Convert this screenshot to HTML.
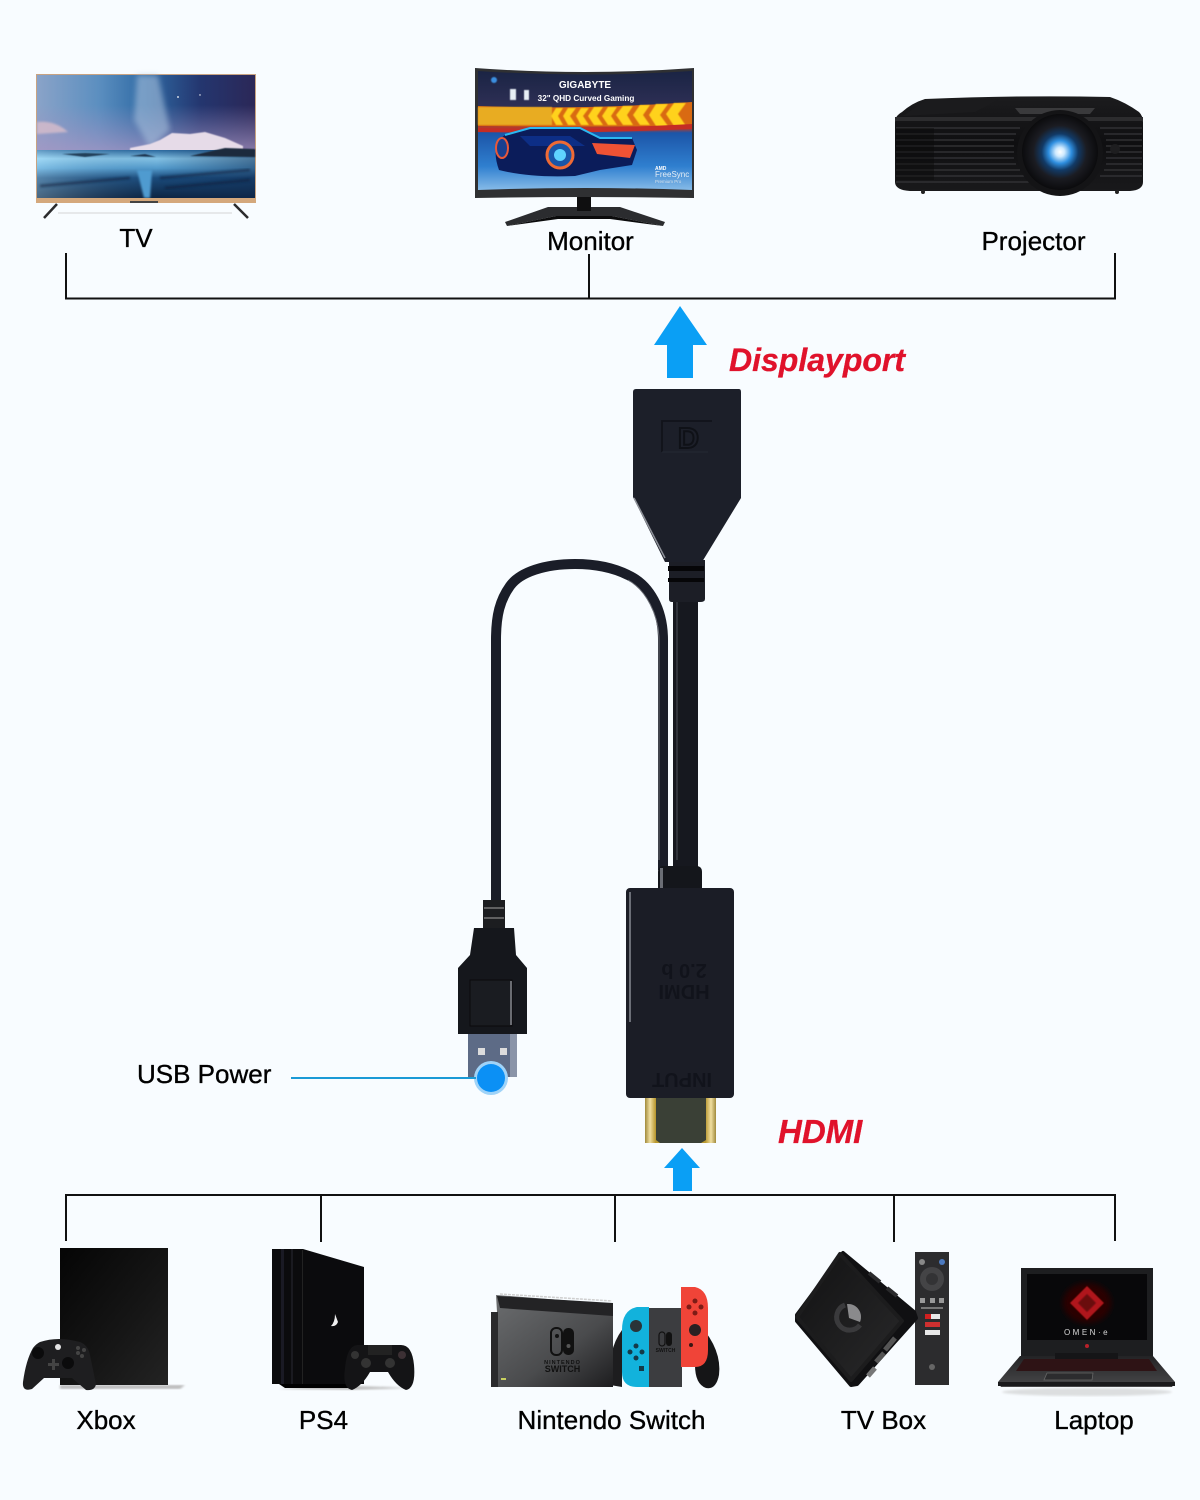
<!DOCTYPE html>
<html>
<head>
<meta charset="utf-8">
<style>
html,body{margin:0;padding:0;background:#f8fcff;}
svg{display:block;}
text{font-family:"Liberation Sans",sans-serif;}
.lb{font-size:26px;fill:#000;stroke:#000;stroke-width:.35px;}
</style>
</head>
<body>
<svg width="1200" height="1500" viewBox="0 0 1200 1500" xmlns="http://www.w3.org/2000/svg">
<defs>
<linearGradient id="sky" x1="0" y1="0" x2="1" y2="0"><stop offset="0" stop-color="#8aa3c8"/><stop offset="0.28" stop-color="#5c8fc0"/><stop offset="0.5" stop-color="#2f6aa4"/><stop offset="0.75" stop-color="#24366f"/><stop offset="1" stop-color="#2b2757"/></linearGradient>
<linearGradient id="skyl" x1="0" y1="0" x2="0" y2="1"><stop offset="0" stop-color="#9a8fc0" stop-opacity="0"/><stop offset="1" stop-color="#a896c4" stop-opacity=".75"/></linearGradient>
<linearGradient id="sea" x1="0" y1="0" x2="0" y2="1"><stop offset="0" stop-color="#2f6fa5"/><stop offset="0.18" stop-color="#8fd0f2"/><stop offset="0.38" stop-color="#5aa6d8"/><stop offset="0.58" stop-color="#1c4f80"/><stop offset="1" stop-color="#0c2340"/></linearGradient>
<linearGradient id="seal" x1="0" y1="0" x2="1" y2="0"><stop offset="0" stop-color="#bfe8fb" stop-opacity=".35"/><stop offset="0.55" stop-color="#10305a" stop-opacity=".1"/><stop offset="1" stop-color="#102a50" stop-opacity=".55"/></linearGradient>
<linearGradient id="mon" x1="0" y1="0" x2="0" y2="1"><stop offset="0" stop-color="#1a2444"/><stop offset="0.3" stop-color="#2e2f55"/><stop offset="0.48" stop-color="#b63a2a"/><stop offset="0.52" stop-color="#1c55a8"/><stop offset="0.8" stop-color="#2f7fcf"/><stop offset="1" stop-color="#86bbe8"/></linearGradient>
<linearGradient id="proj" x1="0" y1="0" x2="0" y2="1"><stop offset="0" stop-color="#1c1c1e"/><stop offset="0.5" stop-color="#0f0f11"/><stop offset="1" stop-color="#19191b"/></linearGradient>
<radialGradient id="lens"><stop offset="0" stop-color="#fff"/><stop offset="0.12" stop-color="#cfeaff"/><stop offset="0.3" stop-color="#2f8fe0"/><stop offset="0.48" stop-color="#123a66"/><stop offset="0.7" stop-color="#1b1c22"/><stop offset="1" stop-color="#0b0b0d"/></radialGradient>
<linearGradient id="tower" x1="0" y1="0" x2="1" y2="1"><stop offset="0" stop-color="#050505"/><stop offset="0.6" stop-color="#161616"/><stop offset="1" stop-color="#232323"/></linearGradient>
<linearGradient id="dock" x1="0" y1="0" x2="1" y2="1"><stop offset="0" stop-color="#6c6e70"/><stop offset="0.6" stop-color="#4a4b4d"/><stop offset="1" stop-color="#1d1d1f"/></linearGradient>
<linearGradient id="box" x1="0" y1="0" x2="1" y2="1"><stop offset="0" stop-color="#121213"/><stop offset="1" stop-color="#29292a"/></linearGradient>
<linearGradient id="gold" x1="0" y1="0" x2="1" y2="0"><stop offset="0" stop-color="#a08a3c"/><stop offset="0.07" stop-color="#f0dea0"/><stop offset="0.15" stop-color="#b8982f"/><stop offset="0.85" stop-color="#b8982f"/><stop offset="0.93" stop-color="#f0dea0"/><stop offset="1" stop-color="#a08a3c"/></linearGradient>
<linearGradient id="deck" x1="0" y1="0" x2="0" y2="1"><stop offset="0" stop-color="#232325"/><stop offset="1" stop-color="#48484a"/></linearGradient>
<filter id="s"><feGaussianBlur stdDeviation=".5"/></filter>
<filter id="b1"><feGaussianBlur stdDeviation="1"/></filter>
<filter id="b3"><feGaussianBlur stdDeviation="3"/></filter>
</defs>

<rect width="1200" height="1500" fill="#f8fcff"/>

<!-- TV -->
<g>
<path d="M58 213H232" stroke="#e6e8ea" stroke-width="2"/>
<path d="M57 204L44 218M234 204L248 218" stroke="#2b2b2d" stroke-width="2.500"/>
<rect x="36" y="74" width="220" height="129" fill="#c8a382"/>
<rect x="37" y="75" width="218" height="76" fill="url(#sky)"/>
<rect x="37" y="105" width="218" height="46" fill="url(#skyl)"/>
<path d="M137 75H158L170 130L150 148L134 120Z" fill="#a8c0dc" opacity=".6" filter="url(#b3)"/>
<path d="M37 122Q55 120 68 132L37 134Z" fill="#d4bccb" opacity=".85" filter="url(#b1)"/>
<path d="M130 148L150 144L160 140L172 133L190 134L205 132L225 138L243 146V151H130Z" fill="#e6dbe8" filter="url(#s)"/>
<rect x="37" y="150" width="218" height="48" fill="url(#sea)"/>
<rect x="37" y="150" width="218" height="48" fill="url(#seal)"/>
<path d="M190 156L225 148L255 149V157Z" fill="#1a2a3d" filter="url(#s)"/>
<path d="M62 154L85 153L110 154L85 157Z" fill="#24405a" filter="url(#s)"/>
<path d="M130 156L145 154L156 157Z" fill="#1f3650" filter="url(#s)"/>
<path d="M137 170H152L150 198H144Z" fill="#4f9bd0" filter="url(#b1)"/>
<path d="M40 186L130 178M160 178L250 170M165 188L250 180" stroke="#0a1d38" stroke-width="3" opacity=".5" filter="url(#b1)"/>
<rect x="36" y="198" width="220" height="5" fill="#d4a87c"/>
<rect x="130" y="201" width="28" height="2" fill="#444"/>
<circle cx="178" cy="97" r="0.9" fill="#fff"/><circle cx="200" cy="95" r="0.7" fill="#fff"/>
</g>

<!-- Monitor -->
<g>
<path d="M505 222L548 207H620L665 222L663 226L612 216H556L507 226Z" fill="#2b2c2f"/>
<path d="M507 226L556 216H612L663 226L655 225L610 219H558Z" fill="#0b0b0c"/>
<rect x="577" y="196" width="14" height="15" fill="#0f0f10"/>
<path d="M475 68Q585 76 694 68V198Q585 196 475 198Z" fill="#2f3032"/>
<path d="M478 71Q585 78 692 71V190Q585 186 478 190Z" fill="url(#mon)"/>
<path d="M478 106Q585 110 692 102V126Q585 127 478 126Z" fill="#d96a12"/>
<path d="M478 107H552V125H478Z" fill="#e8ac20" filter="url(#s)"/>
<g fill="#ffd21f" filter="url(#s)">
<path d="M556 108h7l-5 8 5 9h-7l-5-9z"/><path d="M568 108h8l-6 8 6 9h-8l-5-9z"/><path d="M581 108h8l-6 8 6 9h-8l-5-9z"/><path d="M594 107h9l-6 9 6 9h-9l-6-9z"/><path d="M608 107h9l-6 9 6 9h-9l-6-9z"/><path d="M623 106h10l-6 9 6 10h-10l-7-10z"/><path d="M640 105h10l-7 10 7 10h-10l-7-10z"/><path d="M656 104h12l-8 11 8 11h-12l-7-11z"/><path d="M674 103h12l-8 11 8 12h-12l-8-12z"/>
</g>
<path d="M478 128Q585 130 692 124V129Q585 134 478 132Z" fill="#c42d25"/>
<path d="M499 170Q490 145 505 135L530 128H580L600 138H632L637 150L632 165L600 170L575 176Q530 178 499 170Z" fill="#0b1c5a"/>
<path d="M505 135L530 128H580L600 138H632" fill="none" stroke="#2bb8f2" stroke-width="2"/>
<path d="M520 136H570L585 146H530Z" fill="#0d2e86"/>
<circle cx="560" cy="155" r="13" fill="#1a55a8" stroke="#ef6a35" stroke-width="3"/>
<circle cx="560" cy="155" r="6" fill="#5fd3ff"/>
<ellipse cx="502" cy="148" rx="6" ry="10" fill="#1a3f8f" stroke="#e8583a" stroke-width="2"/>
<path d="M592 143L635 145L630 158L597 154Z" fill="#ef5234"/>
<circle cx="494" cy="80" r="3" fill="#3b8fe0" filter="url(#s)"/>
<rect x="510" y="89" width="6" height="11" fill="#e7eef5" filter="url(#s)"/><rect x="524" y="90" width="5" height="10" fill="#e7eef5" filter="url(#s)"/>
<text x="585" y="88" text-anchor="middle" font-size="10" font-weight="bold" fill="#fff">GIGABYTE</text>
<text x="586" y="101" text-anchor="middle" font-size="8.2" font-weight="bold" fill="#fff">32" QHD Curved Gaming</text>
<text x="655" y="170" font-size="5" font-weight="bold" fill="#fff">AMD</text>
<text x="655" y="177" font-size="8" fill="#e6eef6">FreeSync</text>
<text x="655" y="183" font-size="4.5" fill="#d5e0ea">Premium Pro</text>
</g>

<!-- Projector -->
<g>
<path d="M925 99Q1020 95 1110 97Q1125 102 1139 112Q1143 116 1143 122V182Q1143 190 1130 191H910Q895 190 895 182V122Q895 116 902 112Q912 103 925 99Z" fill="url(#proj)"/>
<path d="M927 100L1000 99L975 112L903 116Z" fill="#1b1b1d"/>
<path d="M1015 108L1095 108L1090 114L1020 114Z" fill="#3a3a3c"/>
<path d="M895 117H1143V121H895Z" fill="#2c2c2e"/>
<g stroke="#37373a" stroke-width="1.300">
<path d="M896 128H1020M896 134H1016M896 140H1014M896 146H1014M896 152H1014M896 158H1014M896 164H1016M896 170H1020M896 176H1026M896 182H1034"/>
<path d="M1100 128H1142M1104 134H1142M1106 140H1142M1106 146H1142M1106 152H1142M1106 158H1142M1106 164H1142M1104 170H1142M1100 176H1142"/>
</g>
<rect x="896" y="128" width="38" height="52" fill="#0a0a0b" opacity=".45"/>
<circle cx="1060" cy="153" r="43" fill="#141416"/>
<circle cx="1060" cy="152" r="38" fill="url(#lens)"/>
<circle cx="1115" cy="149" r="5" fill="#1e1e20"/>
<circle cx="923" cy="192" r="2" fill="#222"/><circle cx="1117" cy="192" r="2" fill="#222"/>
</g>

<!-- Top labels -->
<text class="lb" x="136" y="247" text-anchor="middle">TV</text>
<text class="lb" x="590.500" y="250" text-anchor="middle">Monitor</text>
<text class="lb" x="1033.500" y="250" text-anchor="middle">Projector</text>

<!-- Top bracket -->
<path d="M66 253V298.500H1115V253M589 254V298" fill="none" stroke="#111" stroke-width="2"/>

<!-- Up arrow top -->
<path d="M680 306L707 345H693V378H667V345H654Z" fill="#0a9ff5"/>
<text x="729" y="371" font-size="32" font-weight="bold" font-style="italic" fill="#e0122b" stroke="#e0122b" stroke-width=".3">Displayport</text>

<!-- thin cable -->
<path d="M663 870V640C663 610 650 585 628 575C610 566 590 564 575 564C545 564 520 572 510 586C500 600 496 615 496 640V905" fill="none" stroke="#1a1d28" stroke-width="10"/>
<path d="M659 860V640C659 615 646 590 628 580" fill="none" stroke="#6a6d75" stroke-width="1"/>
<!-- main cable -->
<rect x="673" y="598" width="25" height="275" fill="#16181f"/>
<rect x="676" y="600" width="2" height="260" fill="#30333b"/>
<!-- HDMI strain -->
<path d="M658 872Q658 866 664 866H696Q702 866 702 872V892H658Z" fill="#14161b"/>
<rect x="660" y="868" width="3" height="22" fill="#6b6e75"/>
<!-- DP connector -->
<path d="M669 560H705V599Q705 602 700 602H672Q669 602 669 599Z" fill="#1c1e26"/>
<rect x="668" y="566" width="36" height="5" fill="#060608"/>
<rect x="668" y="578" width="36" height="4" fill="#060608"/>
<path d="M636 389H739Q741 389 741 392V498L702 562H665L633 497V392Q633 389 636 389Z" fill="#1c1f29"/>
<path d="M634 498L665 558" stroke="#8d9098" stroke-width="1.500" fill="none"/>
<path d="M662 452V421H712" stroke="#11131a" stroke-width="1.800" fill="none"/>
<path d="M662 452H708" stroke="#242833" stroke-width="1" fill="none"/>
<text x="678" y="448" font-size="29" font-weight="bold" fill="none" stroke="#0f1117" stroke-width="2">D</text>

<!-- HDMI connector -->
<rect x="645" y="1097" width="71" height="46" fill="url(#gold)"/>
<path d="M656 1097H706V1140L701 1143H660L656 1140Z" fill="#3a4036"/>
<rect x="626" y="888" width="108" height="210" rx="4" fill="#1b1d26"/>
<rect x="629" y="892" width="2" height="130" fill="#6c6f77"/>
<g transform="rotate(180 684 980)" fill="#10121a" font-weight="bold" opacity=".85">
<text x="684" y="975" text-anchor="middle" font-size="20">HDMI</text>
<text x="684" y="996" text-anchor="middle" font-size="20">2.0 b</text>
</g>
<text transform="rotate(180 682 1080)" x="682" y="1087" text-anchor="middle" font-size="20" font-weight="bold" fill="#10121a" opacity=".85">INPUT</text>

<!-- USB -->
<rect x="483" y="900" width="22" height="30" fill="#1c1d20"/>
<path d="M484 908H504M484 918H504" stroke="#777" stroke-width="1.500"/>
<rect x="468" y="1033" width="49" height="44" fill="#5d6b86"/>
<rect x="510" y="1034" width="7" height="43" fill="#8a94a8"/>
<rect x="478" y="1048" width="7" height="7" fill="#dcdcdc"/>
<rect x="500" y="1048" width="7" height="7" fill="#dcdcdc"/>
<path d="M474 928H514L516 955L527 968V1034H458V968L470 955Z" fill="#15171c"/>
<rect x="470" y="980" width="42" height="46" fill="#1a1c21" stroke="#0a0a0c"/>
<rect x="510" y="981" width="2" height="44" fill="#6a6c72"/>
<circle cx="491" cy="1078" r="17" fill="#9fd3f8"/>
<circle cx="491" cy="1078" r="14" fill="#0b90f5"/>
<path d="M291 1078H476" stroke="#1a9ad6" stroke-width="2"/>
<text class="lb" x="137" y="1083">USB Power</text>

<!-- HDMI label and arrow -->
<text x="778" y="1143" font-size="33" font-weight="bold" font-style="italic" fill="#e0122b" stroke="#e0122b" stroke-width=".3">HDMI</text>
<path d="M682 1148L700 1168H692V1191H673V1168H664Z" fill="#0a9ff5"/>

<!-- Bottom bracket -->
<path d="M66 1241V1195H1115V1241M321 1195V1242M615 1195V1242M894 1195V1242" fill="none" stroke="#111" stroke-width="2"/>

<!-- Xbox -->
<g>
<path d="M60 1385H185L180 1389H60Z" fill="#bbb" filter="url(#b1)"/>
<rect x="60" y="1248" width="108" height="137" fill="url(#tower)"/>
<path d="M40 1342Q58 1336 80 1342Q88 1345 90 1355L96 1384Q95 1391 86 1390L72 1378H44L32 1389Q22 1392 23 1382Q26 1360 33 1348Q36 1344 40 1342Z" fill="#1e1e20"/>
<circle cx="38" cy="1353" r="6" fill="#0b0b0c"/><circle cx="68" cy="1363" r="6" fill="#0b0b0c"/>
<circle cx="58" cy="1347" r="3" fill="#e4e4e4"/>
<path d="M48 1363h4v-4h3v4h4v3h-4v4h-3v-4h-4z" fill="#444"/>
<circle cx="78" cy="1353" r="2" fill="#444"/><circle cx="84" cy="1350" r="2" fill="#444"/><circle cx="78" cy="1348" r="2" fill="#444"/><circle cx="82" cy="1356" r="2" fill="#444"/>
</g>

<!-- PS4 -->
<g>
<path d="M278 1389L330 1385L410 1388L350 1390Z" fill="#bbb" filter="url(#b1)"/>
<path d="M272 1249H303L364 1267V1384H272Z" fill="#0b0b0d"/>
<rect x="281" y="1249" width="3" height="135" fill="#1a1a24"/>
<rect x="291" y="1249" width="2" height="135" fill="#1a1a20"/>
<rect x="302" y="1250" width="1" height="134" fill="#222"/>
<path d="M279 1384H350V1388H285Z" fill="#000"/>
<path d="M335 1314L338 1322Q336 1327 331 1326Q335 1322 335 1314Z" fill="#f0f0f0"/>
<path d="M357 1345H400Q412 1344 414 1365Q416 1388 406 1390Q396 1386 388 1372H370Q362 1386 352 1390Q342 1388 345 1368Q347 1346 357 1345Z" fill="#141416"/>
<rect x="368" y="1345" width="24" height="10" fill="#222"/>
<circle cx="366" cy="1363" r="5" fill="#333"/><circle cx="390" cy="1363" r="5" fill="#333"/>
<circle cx="355" cy="1355" r="4" fill="#333"/><circle cx="402" cy="1355" r="4" fill="#3c3034"/>
</g>

<!-- Switch -->
<g>
<path d="M610 1385Q607 1350 622 1330V1387Z" fill="#1d1d1f"/>
<path d="M700 1325Q722 1350 719 1375Q716 1390 706 1388Q695 1384 695 1365Z" fill="#151517"/>
<path d="M496 1295L613 1304V1387H491V1312H497Z" fill="url(#dock)"/>
<path d="M497 1296L613 1303V1316L500 1308Z" fill="#232325"/>
<path d="M500 1294L612 1301" stroke="#cfcfcf" stroke-width="1.500" stroke-dasharray="3 1"/>
<rect x="491" y="1312" width="7" height="75" fill="#2a2a2c"/>
<rect x="501" y="1378" width="5" height="2" fill="#c8d060"/>
<rect x="551" y="1328" width="11" height="27" rx="5" fill="none" stroke="#111" stroke-width="2"/>
<rect x="563" y="1328" width="11" height="27" rx="5" fill="#111"/>
<circle cx="557" cy="1336" r="2" fill="#111"/><circle cx="568.500" cy="1346" r="2" fill="#555"/>
<text x="562.500" y="1364" text-anchor="middle" font-size="5.500" font-weight="bold" letter-spacing="1" fill="#111">NINTENDO</text>
<text x="562.500" y="1372" text-anchor="middle" font-size="9" font-weight="bold" fill="#111">SWITCH</text>
<path d="M649 1307H637Q622 1310 622 1330V1372Q622 1387 637 1387H649Z" fill="#12b2dc"/>
<circle cx="636" cy="1326" r="6" fill="#2a3438"/>
<circle cx="636" cy="1346" r="2.500" fill="#143a48"/><circle cx="636" cy="1358" r="2.500" fill="#143a48"/><circle cx="630" cy="1352" r="2.500" fill="#143a48"/><circle cx="642" cy="1352" r="2.500" fill="#143a48"/>
<rect x="639" y="1366" width="5" height="5" fill="#143a48"/>
<rect x="649" y="1308" width="33" height="79" fill="#3c3d40"/>
<rect x="659" y="1332" width="6" height="14" rx="3" fill="none" stroke="#111" stroke-width="1.200"/><rect x="666" y="1332" width="6" height="14" rx="3" fill="#111"/>
<text x="665.500" y="1352" text-anchor="middle" font-size="5" font-weight="bold" fill="#111">SWITCH</text>
<path d="M681 1287H695Q708 1290 708 1308V1350Q708 1367 695 1367H681Z" fill="#f04438"/>
<circle cx="695" cy="1330" r="6" fill="#2a2022"/>
<circle cx="695" cy="1301" r="2.500" fill="#7d1c16"/><circle cx="695" cy="1313" r="2.500" fill="#7d1c16"/><circle cx="689" cy="1307" r="2.500" fill="#7d1c16"/><circle cx="701" cy="1307" r="2.500" fill="#7d1c16"/>
<circle cx="691" cy="1345" r="2" fill="#3a1612"/>
</g>

<!-- TV Box -->
<g>
<path d="M815 1385H900" stroke="#aaa" stroke-width="2" filter="url(#b1)"/>
<rect x="915" y="1252" width="34" height="133" fill="#2c2c2e"/>
<path d="M843 1253L914 1312L916 1318L857 1384L851 1385L797 1321L797 1315Z" fill="#101012" stroke="#101012" stroke-width="4" stroke-linejoin="round"/>
<path d="M840 1254L797 1317L851 1380L902 1321Z" fill="url(#box)" stroke="#1c1c1d" stroke-width="4" stroke-linejoin="round"/>
<path d="M869 1273l11 9M887 1288l10 8" stroke="#2a2a2c" stroke-width="4"/>
<path d="M885 1350l10-12" stroke="#555" stroke-width="5"/><path d="M876 1362l8-9" stroke="#555" stroke-width="5"/><path d="M868 1376l7-8" stroke="#777" stroke-width="5"/>
<path d="M845 1305A13 13 0 1 0 860 1325" fill="none" stroke="#3a3a3c" stroke-width="5"/>
<path d="M847 1304A13 13 0 0 1 860 1322L849 1318Z" fill="#8a8a8c"/>
<circle cx="922" cy="1262" r="3" fill="#888"/><circle cx="942" cy="1262" r="3" fill="#4c7ac0"/>
<circle cx="932" cy="1279" r="12" fill="#444446"/><circle cx="932" cy="1279" r="6" fill="#333335"/>
<rect x="920" y="1298" width="5" height="5" fill="#999"/><rect x="930" y="1298" width="5" height="5" fill="#999"/><rect x="939" y="1298" width="5" height="5" fill="#999"/>
<rect x="921" y="1307" width="22" height="2" fill="#777"/>
<rect x="925" y="1314" width="15" height="5" fill="#e8e8e8"/><rect x="925" y="1314" width="6" height="5" fill="#d02020"/>
<rect x="925" y="1322" width="15" height="5" fill="#cf3030"/>
<rect x="925" y="1330" width="15" height="5" fill="#e8e8e8"/>
<circle cx="932" cy="1367" r="3" fill="#666"/>
</g>

<!-- Laptop -->
<g>
<ellipse cx="1087" cy="1392" rx="85" ry="4" fill="#dcdedf" filter="url(#b1)"/>
<rect x="1021" y="1268" width="132" height="90" fill="#1d1e20"/>
<rect x="1027" y="1274" width="120" height="66" fill="#08080a"/>
<ellipse cx="1087" cy="1303" rx="24" ry="20" fill="#2a0506" filter="url(#b3)"/>
<path d="M1087 1286L1104 1303L1087 1320L1070 1303Z" fill="#b0181a" filter="url(#s)"/>
<path d="M1087 1294L1096 1303L1087 1312L1078 1303Z" fill="#6a0d10" filter="url(#s)"/>
<text x="1087" y="1335" text-anchor="middle" font-size="8" letter-spacing="2.500" fill="#d8d8d8">OMEN·e</text>
<circle cx="1087" cy="1346" r="2" fill="#b8212a"/>
<path d="M1020 1356H1153L1175 1382L1172 1387H1001L998 1382Z" fill="url(#deck)"/>
<path d="M1024 1359H1149L1157 1371H1016Z" fill="#2e1315"/>
<path d="M1033 1365h20" stroke="#b82028" stroke-width="3" filter="url(#s)"/>
<path d="M1047 1373H1093L1092 1380H1044Z" fill="#2c2c2e" stroke="#666" stroke-width=".8"/>
<rect x="998" y="1382" width="177" height="4" fill="#1a1a1c"/>
<rect x="1055" y="1353" width="63" height="6" fill="#151517"/>
</g>

<!-- Bottom labels -->
<text class="lb" x="106" y="1429" text-anchor="middle">Xbox</text>
<text class="lb" x="323.500" y="1429" text-anchor="middle">PS4</text>
<text class="lb" x="611.500" y="1429" text-anchor="middle">Nintendo Switch</text>
<text class="lb" x="883.500" y="1429" text-anchor="middle">TV Box</text>
<text class="lb" x="1094" y="1429" text-anchor="middle">Laptop</text>
</svg>
</body>
</html>
